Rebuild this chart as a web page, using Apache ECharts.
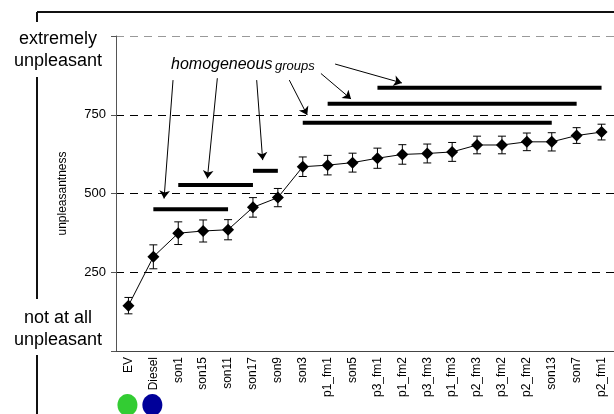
<!DOCTYPE html>
<html>
<head>
<meta charset="utf-8">
<script src="https://cdn.jsdelivr.net/npm/echarts@6/dist/echarts.min.js"></script>
<style>
  html, body { margin: 0; padding: 0; background: #fff; }
  #chart { width: 614px; height: 414px; }
</style>
</head>
<body>
<div id="chart"></div>
<script>
// stimuli, ordered by mean unpleasantness
const categories = ['EV', 'Diesel', 'son1', 'son15', 'son11', 'son17', 'son9', 'son3', 'p1_fm1', 'son5',
  'p3_fm1', 'p1_fm2', 'p3_fm3', 'p1_fm3', 'p2_fm3', 'p3_fm2', 'p2_fm2', 'son13', 'son7', 'p2_fm1']
const means = [144, 299, 374, 381, 385, 456, 487, 585, 590, 598, 612, 624, 627, 632, 654, 654, 664, 664, 684, 695]
const errors = [26, 38, 36, 35, 32, 31, 29, 31, 31, 30, 32, 31, 30, 30, 28, 28, 28, 29, 25, 25]

// homogeneous groups: first stimulus, last stimulus, level
const groupFrom = ['Diesel', 'son1', 'son17', 'son3', 'p1_fm1', 'p3_fm1']
const groupTo = ['son11', 'son17', 'son9', 'son13', 'son7', 'p2_fm1']
const groupLevel = [450, 527, 572, 725, 785, 836]

// arrows from the label to each group (x in category units, y in unpleasantness)
const arrowFrom = [[2.29, 860], [4.07, 866], [5.65, 860], [6.96, 860], [8.23, 881], [8.8, 911]]
const arrowTo = [[1.93, 484], [3.67, 548], [5.89, 606], [7.68, 749], [9.44, 800], [11.48, 851]]

const yTicks = [250, 500, 750]

const font = 'Liberation Sans, Arial, sans-serif'
const chart = echarts.init(document.getElementById('chart'))

const errorBars = categories.map((c, i) => [i, means[i] - errors[i], means[i] + errors[i]])

const renderError = (params, api) => {
  const lo = api.coord([api.value(0), api.value(1)])
  const hi = api.coord([api.value(0), api.value(2)])
  const w = 4
  const style = { stroke: '#000', lineWidth: 1 }
  return {
    type: 'group',
    children: [
      { type: 'line', shape: { x1: lo[0], y1: lo[1], x2: hi[0], y2: hi[1] }, style },
      { type: 'line', shape: { x1: lo[0] - w, y1: lo[1], x2: lo[0] + w, y2: lo[1] }, style },
      { type: 'line', shape: { x1: hi[0] - w, y1: hi[1], x2: hi[0] + w, y2: hi[1] }, style }
    ]
  }
}

const groupSeries = groupFrom.map((g, i) => ({
  type: 'line',
  data: [[g, groupLevel[i]], [groupTo[i], groupLevel[i]]],
  symbol: 'none',
  lineStyle: { color: '#000', width: 4 },
  silent: true,
  z: 3
}))

const option = {
  animation: false,
  textStyle: { fontFamily: font },
  grid: { left: 116, top: 36, width: 500, height: 315 },
  xAxis: [
    {
      type: 'category',
      data: categories,
      axisLine: { lineStyle: { color: '#444', width: 1 } },
      axisTick: { length: 4, lineStyle: { color: '#444' } },
      axisLabel: { rotate: 90, fontSize: 12, color: '#000', margin: 6, fontFamily: font, interval: 0 }
    },
    { type: 'value', min: 0, max: 20, show: false }
  ],
  yAxis: {
    type: 'value',
    min: 0,
    max: 1000,
    interval: 250,
    name: 'unpleasantness',
    nameLocation: 'middle',
    nameGap: 47,
    nameTextStyle: { fontSize: 12, color: '#000', fontFamily: font },
    axisLine: { show: true, lineStyle: { color: '#555', width: 1 } },
    axisTick: { show: true, length: 5, lineStyle: { color: '#555' } },
    axisLabel: {
      fontSize: 13, color: '#000', margin: 10, fontFamily: font,
      formatter: v => (yTicks.includes(v) ? String(v) : '')
    },
    splitLine: {
      lineStyle: { color: ['#000', '#000', '#000', '#000', '#999'], type: [8, 6], width: 1 }
    }
  },
  series: [
    {
      type: 'custom',
      renderItem: renderError,
      data: errorBars,
      encode: { x: 0, y: [1, 2] },
      z: 4
    },
    {
      type: 'line',
      data: means,
      symbol: 'diamond',
      symbolSize: 12,
      itemStyle: { color: '#000' },
      lineStyle: { color: '#000', width: 1 },
      z: 5
    },
    ...groupSeries,
    {
      type: 'lines',
      coordinateSystem: 'cartesian2d',
      xAxisIndex: 1,
      yAxisIndex: 0,
      symbol: ['none', 'arrow'],
      symbolSize: 8,
      lineStyle: { color: '#000', width: 1, opacity: 1 },
      data: arrowFrom.map((a, i) => ({ coords: [a, arrowTo[i]] })),
      z: 6
    }
  ]
}
chart.setOption(option)

// coloured markers under EV and Diesel
const evX = chart.convertToPixel({ xAxisIndex: 0 }, 'EV')
const dieselX = chart.convertToPixel({ xAxisIndex: 0 }, 'Diesel')
const lineStyle = { stroke: '#111', lineWidth: 2 }

chart.setOption({
  graphic: [
    { type: 'line', shape: { x1: 37, y1: 12, x2: 614, y2: 12 }, style: lineStyle },
    { type: 'line', shape: { x1: 37, y1: 12, x2: 37, y2: 22 }, style: lineStyle },
    { type: 'line', shape: { x1: 37, y1: 77, x2: 37, y2: 299 }, style: lineStyle },
    { type: 'line', shape: { x1: 37, y1: 355, x2: 37, y2: 414 }, style: lineStyle },
    { type: 'text', left: 'auto', x: 58, y: 39, style: { text: 'extremely', font: '18px ' + font, fill: '#000', align: 'center', verticalAlign: 'middle' } },
    { type: 'text', x: 58, y: 61, style: { text: 'unpleasant', font: '18px ' + font, fill: '#000', align: 'center', verticalAlign: 'middle' } },
    { type: 'text', x: 58, y: 318, style: { text: 'not at all', font: '18px ' + font, fill: '#000', align: 'center', verticalAlign: 'middle' } },
    { type: 'text', x: 58, y: 340, style: { text: 'unpleasant', font: '18px ' + font, fill: '#000', align: 'center', verticalAlign: 'middle' } },
    { type: 'text', x: 171, y: 65, style: { text: 'homogeneous', font: 'italic 16px ' + font, fill: '#000', align: 'left', verticalAlign: 'middle' } },
    { type: 'text', x: 275, y: 66, style: { text: 'groups', font: 'italic 13px ' + font, fill: '#000', align: 'left', verticalAlign: 'middle' } },
    { type: 'ellipse', shape: { cx: evX - 1, cy: 405, rx: 10, ry: 11 }, style: { fill: '#33cc33' } },
    { type: 'ellipse', shape: { cx: dieselX - 1, cy: 405, rx: 10, ry: 11 }, style: { fill: '#000099' } }
  ]
})
</script>
</body>
</html>
